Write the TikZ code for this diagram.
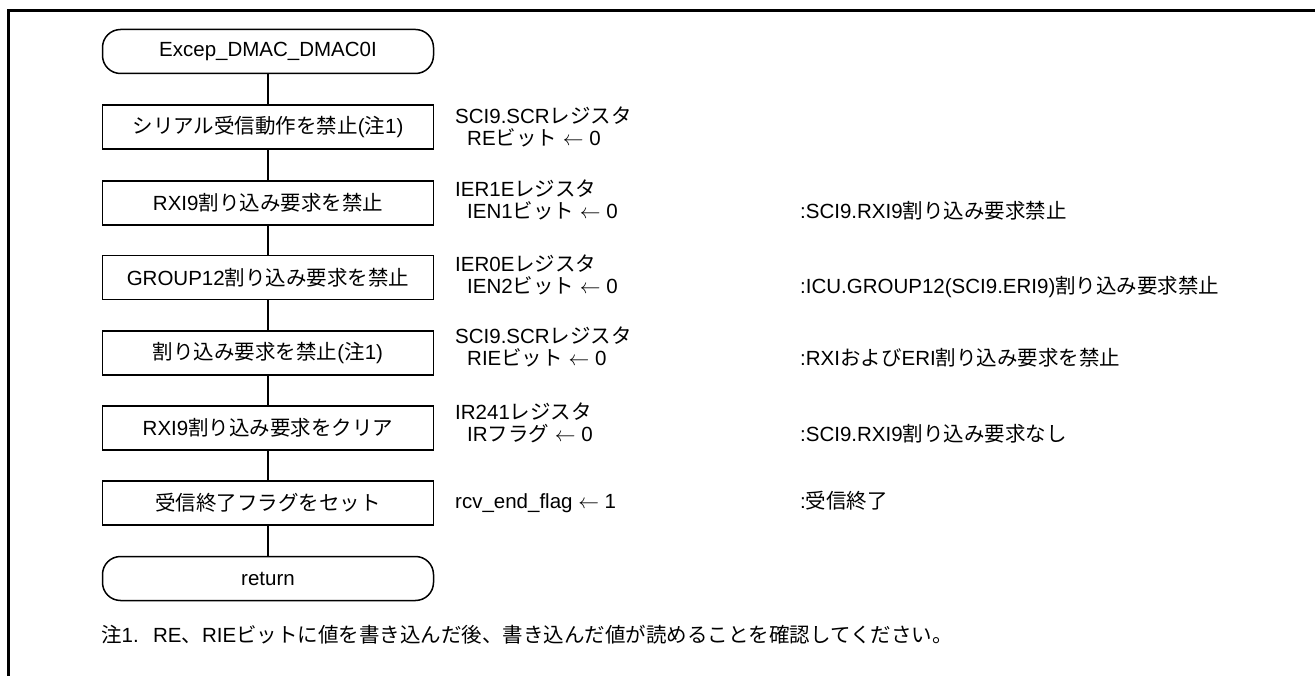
\documentclass[tikz,border=0pt]{standalone}
\usepackage{fontspec}
\setmainfont{Liberation Sans}
\newfontfamily\latinfont{Liberation Sans}
\newfontfamily\jpfont{Noto Sans CJK JP}
\XeTeXinterchartokenstate=1
\newXeTeXintercharclass\JPclass
\newcount\jpc
\def\setjprange#1#2{\jpc=#1\relax\loop\XeTeXcharclass\jpc=\JPclass\relax\ifnum\jpc<#2\advance\jpc by 1\repeat}
\setjprange{"3000}{"30FF}
\setjprange{"4E00}{"9FFF}
\setjprange{"FF00}{"FFEF}
\XeTeXinterchartoks 0 \JPclass = {\jpfont}
\XeTeXinterchartoks 4095 \JPclass = {\jpfont}
\XeTeXinterchartoks \JPclass 0 = {\latinfont}
\XeTeXinterchartoks \JPclass 4095 = {\latinfont}
\tikzset{
  proc/.style={draw, line width=1.5pt, minimum width=331pt, minimum height=44pt, inner sep=0pt},
  term/.style={proc, rounded corners=18pt},
  txt/.style={anchor=west, inner sep=0pt, text height=15pt, text depth=4pt},
  link/.style={line width=1.5pt},
  frame/.style={line width=3pt}
}
\newcommand{\la}{$\leftarrow$}
\begin{document}
\begin{tikzpicture}[x=1pt, y=-1pt, font=\fontsize{20.5}{23}\selectfont]
\useasboundingbox (0,0) rectangle (1315,676);
\draw[frame] (1315,10.5) -- (8.5,10.5) -- (8.5,676);

\node[term] (s)  at (268,51.5) {Excep\_DMAC\_DMAC0I};
\node[proc] (b1) at (268,127) {シリアル受信動作を禁止(注1)};
\node[proc] (b2) at (268,203) {RXI9割り込み要求を禁止};
\node[proc] (b3) at (268,277.5) {GROUP12割り込み要求を禁止};
\node[proc] (b4) at (268,353) {割り込み要求を禁止(注1)};
\node[proc] (b5) at (268,428) {RXI9割り込み要求をクリア};
\node[proc] (b6) at (268,503) {受信終了フラグをセット};
\node[term] (e)  at (268,578.5) {return};

\draw[link] (s) -- (b1);
\draw[link] (b1) -- (b2);
\draw[link] (b2) -- (b3);
\draw[link] (b3) -- (b4);
\draw[link] (b4) -- (b5);
\draw[link] (b5) -- (b6);
\draw[link] (b6) -- (e);

\node[txt] (r1a) at (455,118.5) {SCI9.SCRレジスタ};
\node[txt] (r1b) at (467,140.5) {REビット \la\ 0};
\node[txt] (r2a) at (455,191.5) {IER1Eレジスタ};
\node[txt] (r2b) at (467,213.5) {IEN1ビット \la\ 0};
\node[txt] (r3a) at (455,266) {IER0Eレジスタ};
\node[txt] (r3b) at (467,288) {IEN2ビット \la\ 0};
\node[txt] (r4a) at (455,338.5) {SCI9.SCRレジスタ};
\node[txt] (r4b) at (467,360.5) {RIEビット \la\ 0};
\node[txt] (r5a) at (455,413.5) {IR241レジスタ};
\node[txt] (r5b) at (467,435.5) {IRフラグ \la\ 0};
\node[txt] (r6)  at (455,503) {rcv\_end\_flag \la\ 1};

\node[txt] (c2) at (800,213.5) {:SCI9.RXI9割り込み要求禁止};
\node[txt] (c3) at (800,288) {:ICU.GROUP12(SCI9.ERI9)割り込み要求禁止};
\node[txt] (c4) at (800,360.5) {:RXIおよびERI割り込み要求を禁止};
\node[txt] (c5) at (800,435.5) {:SCI9.RXI9割り込み要求なし};
\node[txt] (c6) at (800,503) {:受信終了};

\node[txt] (fn) at (101,637) {注1.\hspace{0.7em}RE、RIEビットに値を書き込んだ後、書き込んだ値が読めることを確認してください。};
\end{tikzpicture}
\end{document}
